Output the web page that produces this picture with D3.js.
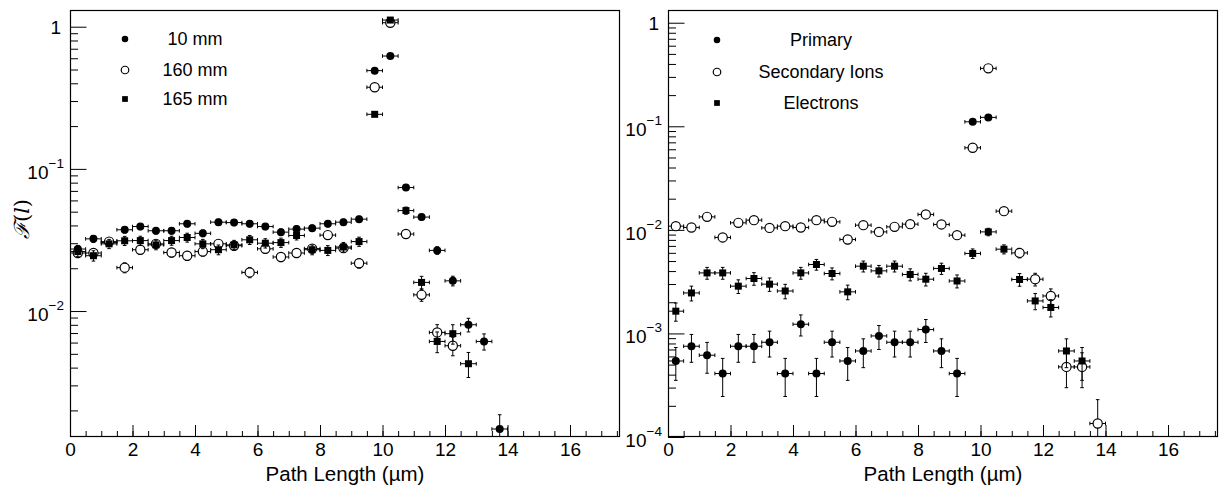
<!DOCTYPE html>
<html>
<head>
<meta charset="utf-8">
<script src="https://cdn.jsdelivr.net/npm/d3@7.9.0/dist/d3.min.js"></script>
<style>
  body { margin: 0; background: #fff; }
  svg { font-family: "Liberation Sans", Arial, sans-serif; }
</style>
</head>
<body>
<svg id="chart" width="1220" height="489"></svg>
<script>
// bin centres (µm), 0.5 µm wide bins
const pathLength = [0.25, 0.75, 1.25, 1.75, 2.25, 2.75, 3.25, 3.75, 4.25, 4.75,
  5.25, 5.75, 6.25, 6.75, 7.25, 7.75, 8.25, 8.75, 9.25, 9.75,
  10.25, 10.75, 11.25, 11.75, 12.25, 12.75, 13.25, 13.75];
const binHalfWidth = 0.25;

// left panel: depth in water
const depth10 = [0.0273, 0.0322, 0.0303, 0.0373, 0.0393, 0.0367, 0.0367, 0.0411, 0.0352, 0.0422,
  0.0419, 0.0411, 0.0393, 0.0359, 0.0377, 0.0383, 0.0411, 0.0422, 0.0443, 0.491,
  0.622, 0.0739, 0.0458, 0.0267, 0.0163, 0.00801, 0.00611, 0.00148];
const depth10Err = [0.06, 0.056, 0.057, 0.052, 0.05, 0.052, 0.052, 0.049, 0.053, 0.049,
  0.049, 0.049, 0.05, 0.053, 0.052, 0.051, 0.049, 0.049, 0.048, 0.014,
  0.013, 0.037, 0.047, 0.061, 0.078, 0.11, 0.13, 0.26];

const depth160 = [0.0256, 0.0256, 0.0308, 0.0202, 0.0270, 0.0297, 0.0258, 0.0245, 0.0262, 0.0297,
  0.0288, 0.0187, 0.0274, 0.0240, 0.0256, 0.0275, 0.0342, 0.0277, 0.0217, 0.375,
  1.067, 0.0348, 0.0130, 0.00707, 0.00570];
const depth160Err = [0.071, 0.071, 0.064, 0.08, 0.069, 0.066, 0.07, 0.072, 0.07, 0.066,
  0.067, 0.083, 0.068, 0.073, 0.071, 0.068, 0.061, 0.068, 0.077, 0.018,
  0.011, 0.061, 0.099, 0.134, 0.15];

const depth165 = [0.0262, 0.0245, 0.0297, 0.0312, 0.0313, 0.0292, 0.0313, 0.0329, 0.0297, 0.0270,
  0.0292, 0.0317, 0.0300, 0.0303, 0.0340, 0.0270, 0.0267, 0.0282, 0.0308, 0.242,
  1.114, 0.0509, 0.0159, 0.00611, 0.00693, 0.00426];
const depth165Err = [0.08, 0.083, 0.075, 0.074, 0.073, 0.076, 0.073, 0.072, 0.075, 0.079,
  0.076, 0.073, 0.075, 0.075, 0.07, 0.079, 0.08, 0.077, 0.074, 0.026,
  0.012, 0.058, 0.103, 0.166, 0.156, 0.2];

// right panel: particle type
const primary = [0.000542, 0.000752, 0.000616, 0.000410, 0.000752, 0.000752, 0.000822, 0.000410, 0.001227, 0.000410,
  0.000822, 0.000542, 0.000677, 0.000946, 0.000822, 0.000822, 0.00109, 0.000677, 0.000410, 0.1105,
  0.1219];
const primaryErr = [0.35, 0.30, 0.33, 0.40, 0.30, 0.30, 0.28, 0.40, 0.23, 0.40,
  0.28, 0.35, 0.31, 0.26, 0.28, 0.28, 0.25, 0.31, 0.40, 0.025,
  0.025];

const secondary = [0.01086, 0.01055, 0.01335, 0.00845, 0.01169, 0.01241, 0.01045, 0.01086, 0.01055, 0.01241,
  0.01195, 0.00808, 0.01110, 0.00956, 0.01069, 0.01135, 0.01409, 0.01128, 0.00889, 0.0620,
  0.3625, 0.01516, 0.00599, 0.00334, 0.00230, 0.000475, 0.000475, 0.000135];
const secondaryErr = [0.078, 0.079, 0.07, 0.088, 0.075, 0.073, 0.079, 0.078, 0.079, 0.073,
  0.074, 0.09, 0.077, 0.083, 0.078, 0.076, 0.068, 0.076, 0.086, 0.033,
  0.013, 0.066, 0.105, 0.14, 0.17, 0.37, 0.37, 0.7];

const electrons = [0.00164, 0.00246, 0.00384, 0.00384, 0.00286, 0.00339, 0.00299, 0.00257, 0.00384, 0.00463,
  0.00379, 0.00252, 0.00446, 0.00402, 0.00446, 0.00371, 0.00334, 0.00424, 0.00321, 0.00592,
  0.00956, 0.00651, 0.00332, 0.00206, 0.00178, 0.000677, 0.000542];
const electronsErr = [0.2, 0.163, 0.131, 0.131, 0.151, 0.139, 0.148, 0.16, 0.131, 0.119,
  0.132, 0.161, 0.121, 0.128, 0.121, 0.133, 0.14, 0.124, 0.143, 0.105,
  0.083, 0.1, 0.14, 0.178, 0.19, 0.31, 0.35];

const xTickLabels = [0, 2, 4, 6, 8, 10, 12, 14, 16];
const leftLegend = ['10 mm', '160 mm', '165 mm'];
const rightLegend = ['Primary', 'Secondary Ions', 'Electrons'];
const xTitle = 'Path Length (\u00b5m)';

const svg = d3.select('#chart');

function drawMarker(g, kind, cx, cy, s) {
  if (kind === 'square') {
    g.append('rect')
      .attr('x', cx - 3.5 * s).attr('y', cy - 3.5 * s)
      .attr('width', 7 * s).attr('height', 7 * s)
      .attr('fill', '#000');
  } else if (kind === 'open') {
    g.append('circle')
      .attr('cx', cx).attr('cy', cy).attr('r', 4.6 * s)
      .attr('fill', '#fff').attr('stroke', '#000').attr('stroke-width', 1.2);
  } else {
    g.append('circle')
      .attr('cx', cx).attr('cy', cy).attr('r', 4 * s)
      .attr('fill', '#000');
  }
}

function drawPanel(p) {
  const x = d3.scaleLinear().domain([0, 17.6]).range([p.left, p.right]);
  const y = d3.scaleLog().domain(p.yDomain).range([p.bottom, p.top]);
  const g = svg.append('g');

  const clipId = 'clip-' + p.id;
  svg.append('clipPath').attr('id', clipId)
    .append('rect')
    .attr('x', p.left).attr('y', p.top)
    .attr('width', p.right - p.left).attr('height', p.bottom - p.top);

  // x axis: minor and major ticks inside the frame
  const minorX = d3.range(0, 17.6, 0.5);
  g.append('g')
    .attr('transform', `translate(0,${p.bottom})`)
    .call(d3.axisBottom(x).tickValues(minorX).tickSizeInner(-6).tickSizeOuter(0).tickFormat(''))
    .call(a => a.select('.domain').remove());
  g.append('g')
    .attr('transform', `translate(0,${p.bottom})`)
    .call(d3.axisBottom(x).tickValues(xTickLabels).tickSizeInner(-12).tickSizeOuter(0).tickPadding(6))
    .call(a => a.select('.domain').remove())
    .call(a => a.selectAll('text').attr('font-size', 19).attr('fill', '#000')
      .attr('font-family', '"Liberation Sans", Arial, sans-serif'));

  // y axis: log, minor ticks at 2..9 x 10^n
  const [y0, y1] = p.yDomain;
  const minorY = [];
  const majorY = [];
  for (let e = Math.floor(Math.log10(y0)); e <= Math.ceil(Math.log10(y1)); e++) {
    const base = Math.pow(10, e);
    if (base >= y0 && base <= y1) majorY.push(base);
    for (let k = 2; k <= 9; k++) {
      const v = k * base;
      if (v >= y0 && v <= y1) minorY.push(v);
    }
  }
  g.append('g')
    .attr('transform', `translate(${p.left},0)`)
    .call(d3.axisLeft(y).tickValues(minorY).tickSizeInner(-8).tickSizeOuter(0).tickFormat(''))
    .call(a => a.select('.domain').remove());
  g.append('g')
    .attr('transform', `translate(${p.left},0)`)
    .call(d3.axisLeft(y).tickValues(majorY).tickSizeInner(-16.5).tickSizeOuter(0).tickFormat(''))
    .call(a => a.select('.domain').remove());

  g.selectAll('.tick line').attr('stroke', '#000').attr('stroke-width', 1);

  // y labels: 1, 10^-n
  majorY.forEach(v => {
    const e = Math.round(Math.log10(v));
    const ty = y(v);
    if (e === 0) {
      g.append('text').attr('x', p.left - 9).attr('y', ty + 7)
        .attr('text-anchor', 'end').attr('font-size', 19).text('1');
    } else {
      g.append('text').attr('x', p.left - 21.5).attr('y', ty + 10)
        .attr('text-anchor', 'end').attr('font-size', 19).text('10');
      g.append('text').attr('x', p.left - 21.5).attr('y', ty - 1)
        .attr('font-size', 13.5).text('\u2212' + (-e));
    }
  });

  // frame
  g.append('rect')
    .attr('x', p.left + 0.5).attr('y', p.top + 0.5)
    .attr('width', p.right - p.left - 1).attr('height', p.bottom - p.top - 1)
    .attr('fill', 'none').attr('stroke', '#000').attr('stroke-width', 1.2);

  // x title
  g.append('text')
    .attr('x', (p.left + p.right) / 2).attr('y', 481)
    .attr('text-anchor', 'middle').attr('font-size', 20.5).text(xTitle);

  // data
  const data = g.append('g').attr('clip-path', `url(#${clipId})`);
  p.series.forEach(s => {
    const sg = data.append('g');
    s.values.forEach((v, i) => {
      const c = pathLength[i];
      const cx = x(c);
      const cy = y(v);
      const e = s.errs[i];
      const xl = x(c - binHalfWidth), xr = x(c + binHalfWidth);
      const lo = v * (1 - e) > 0 ? y(v * (1 - e)) : p.bottom + 10;
      const hi = y(v * (1 + e));
      sg.append('line').attr('x1', xl).attr('x2', xr).attr('y1', cy).attr('y2', cy)
        .attr('stroke', '#000').attr('stroke-width', 1);
      sg.append('line').attr('x1', xl).attr('x2', xl).attr('y1', cy - 1.8).attr('y2', cy + 1.8)
        .attr('stroke', '#000').attr('stroke-width', 1);
      sg.append('line').attr('x1', xr).attr('x2', xr).attr('y1', cy - 1.8).attr('y2', cy + 1.8)
        .attr('stroke', '#000').attr('stroke-width', 1);
      sg.append('line').attr('x1', cx).attr('x2', cx).attr('y1', hi).attr('y2', lo)
        .attr('stroke', '#000').attr('stroke-width', 1);
      sg.append('line').attr('x1', cx - 1.8).attr('x2', cx + 1.8).attr('y1', hi).attr('y2', hi)
        .attr('stroke', '#000').attr('stroke-width', 1);
      sg.append('line').attr('x1', cx - 1.8).attr('x2', cx + 1.8).attr('y1', lo).attr('y2', lo)
        .attr('stroke', '#000').attr('stroke-width', 1);
      drawMarker(sg, s.marker, cx, cy, 1);
    });
  });

  // legend
  p.legend.forEach((label, i) => {
    const ly = p.legendY[i];
    drawMarker(g, p.series[i].marker, p.legendMarkerX, ly, 0.82);
    g.append('text').attr('x', p.legendTextX).attr('y', ly + 6)
      .attr('text-anchor', 'middle').attr('font-size', 18).text(label);
  });
}

drawPanel({
  id: 'left', left: 70, right: 620, top: 10, bottom: 437,
  yDomain: [0.0013, 1.311],
  series: [
    { values: depth10, errs: depth10Err, marker: 'filled' },
    { values: depth160, errs: depth160Err, marker: 'open' },
    { values: depth165, errs: depth165Err, marker: 'square' }
  ],
  legend: leftLegend, legendY: [39, 70, 99], legendMarkerX: 125, legendTextX: 195
});

drawPanel({
  id: 'right', left: 668, right: 1218, top: 10, bottom: 437,
  yDomain: [0.0001, 1.327],
  series: [
    { values: primary, errs: primaryErr, marker: 'filled' },
    { values: secondary, errs: secondaryErr, marker: 'open' },
    { values: electrons, errs: electronsErr, marker: 'square' }
  ],
  legend: rightLegend, legendY: [40, 72, 103], legendMarkerX: 717, legendTextX: 821
});

// y title of the left panel
svg.append('text')
  .attr('transform', 'translate(29,219) rotate(-90)')
  .attr('text-anchor', 'middle')
  .attr('font-size', 21)
  .attr('font-family', '"DejaVu Serif", serif')
  .call(t => {
    t.append('tspan').attr('font-style', 'italic').text('\u2131');
    t.append('tspan').text('(');
    t.append('tspan').attr('font-style', 'italic').text('l');
    t.append('tspan').text(')');
  });
</script>
</body>
</html>
